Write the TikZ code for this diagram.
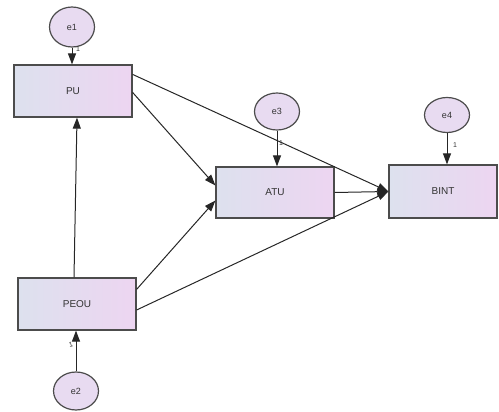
\documentclass[tikz,border=0pt]{standalone}
\usepackage{fontspec}
\setmainfont{Liberation Sans}
\usetikzlibrary{arrows.meta,shapes.geometric}
\definecolor{boxL}{HTML}{DDE1EE}
\definecolor{boxR}{HTML}{EDD5F1}
\definecolor{errF}{HTML}{E8DBF1}
\begin{document}
\begin{tikzpicture}[x=1pt,y=-1pt,
 box/.style={draw=black!70, line width=1.2pt, left color=boxL, right color=boxR, minimum width=118pt, minimum height=52pt, inner sep=0pt, font=\fontsize{10}{12}\selectfont, text=black!80},
 err/.style={ellipse, draw=black!70, line width=1.2pt, fill=errF, minimum width=45pt, minimum height=38pt, inner sep=0pt, font=\fontsize{9}{10}\selectfont, text=black!80},
 arr/.style={-{Triangle[length=11pt,width=8pt]}, line width=1pt, draw=black!85},
 lbl/.style={font=\fontsize{7}{8}\selectfont, inner sep=0pt, text=black!80}]
\useasboundingbox (0,0) rectangle (499,412);
\node[box] (PU) at (73,91) {PU};
\node[box, minimum height=51pt] (ATU) at (275,192.5) {ATU};
\node[box, minimum width=108pt, minimum height=53pt] (BINT) at (443,191.5) {BINT};
\node[box] (PEOU) at (77,304) {PEOU};
\node[err, minimum height=40pt] (e1) at (72,27) {e1};
\node[err, minimum height=37pt] (e3) at (277,111.5) {e3};
\node[err, minimum height=35pt] (e4) at (447,115) {e4};
\node[err] (e2) at (76,391) {e2};
\draw[arr] (e1.south) -- ([xshift=-1pt]PU.north);
\draw[arr] (e3.south) -- ([xshift=2pt]ATU.north);
\draw[arr] (e4.south) -- ([xshift=4pt]BINT.north);
\draw[arr] (e2.north) -- ([xshift=-1pt]PEOU.south);
\draw[arr] ([xshift=-3pt]PEOU.north) -- ([xshift=4pt]PU.south);
\draw[arr] ([yshift=-28pt]PU.north east) -- ([yshift=7pt]ATU.west);
\draw[arr] ([yshift=-10pt]PU.north east) -- (BINT.west);
\draw[arr] ([yshift=-12pt]PEOU.north east) -- ([yshift=-8pt]ATU.west);
\draw[arr] ([yshift=-6pt]PEOU.east) -- (BINT.west);
\draw[arr] (ATU.east) -- (BINT.west);
\node[lbl] (l1) at (78,49) {1};
\node[lbl] (l3) at (281,143) {1};
\node[lbl] (l4) at (455,145) {1};
\node[lbl, rotate=15] (l2) at (71,345) {1};
\end{tikzpicture}
\end{document}
